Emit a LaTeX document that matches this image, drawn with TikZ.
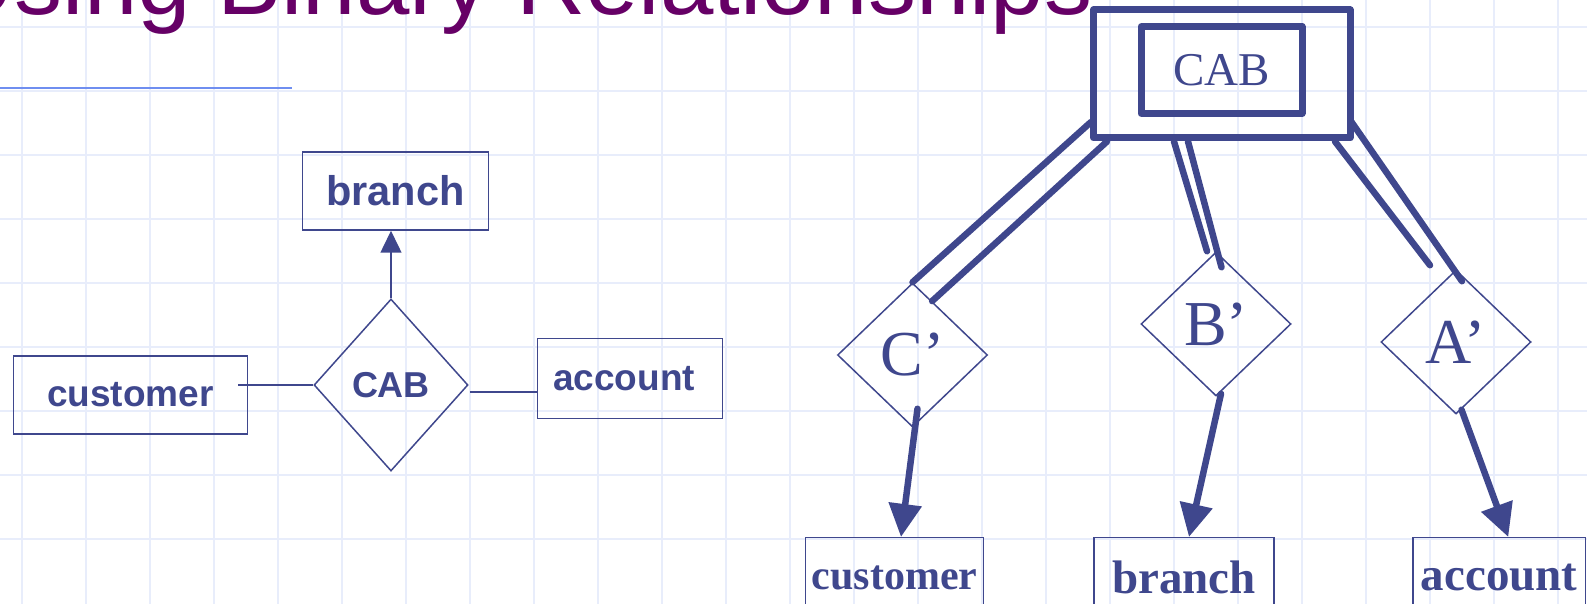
\documentclass[tikz,border=0pt]{standalone}
\usepackage{fontspec}
\setmainfont{Liberation Serif}
\newfontfamily\helv{Liberation Sans}
\usetikzlibrary{shapes.geometric,arrows.meta,calc}
\definecolor{ink}{HTML}{3F478D}
\definecolor{titlepurple}{HTML}{660066}
\definecolor{gridblue}{HTML}{E8EDFB}
\definecolor{ruleblue}{HTML}{6F8EF0}

\begin{document}
\begin{tikzpicture}[x=0.5pt,y=-0.5pt,
  gridline/.style={gridblue,line width=1pt},
  thinbox/.style={draw=ink,line width=0.75pt,rectangle,inner sep=0pt,text=ink},
  thinrel/.style={draw=ink,line width=0.75pt,diamond,inner sep=0pt,text=ink},
  thickbox/.style={draw=ink,line width=3.5pt,line join=round,rectangle,inner sep=0pt,text=ink},
  thinline/.style={ink,line width=0.75pt},
  boldline/.style={ink,line width=3.25pt,line cap=round},
  boldarrow/.style={ink,line width=3.25pt,line cap=round,-{Triangle[length=16.5pt,width=16pt]}},
  sanslabel/.style={font=\helv\bfseries\fontsize{#1}{#1}\selectfont},
  seriflabel/.style={font=\bfseries\fontsize{#1}{#1}\selectfont},
  primelabel/.style={font=\fontsize{32pt}{32pt}\selectfont,minimum width=75pt,minimum height=72pt}]
\useasboundingbox (0,0) rectangle (1587,604);
\clip (0,0) rectangle (1587,604);
\fill[white] (0,0) rectangle (1587,604);
\foreach \gx in {0,...,24}
  \draw[gridline] (22+64*\gx,0) -- (22+64*\gx,604);
\foreach \gy in {0,...,8}
  \draw[gridline] (0,27.5+64*\gy) -- (1587,27.5+64*\gy);
\node[anchor=base west,inner sep=0pt,text=titlepurple,font=\helv\fontsize{48pt}{56pt}\selectfont] (title) at (-55,14.5) {Using Binary Relationships};
\draw[ruleblue,line width=1pt] (0,88) -- (292,88);

\node[thinbox,sanslabel=20.75pt,minimum width=93pt,minimum height=39pt] (lbranch) at (395.5,191) {branch};
\node[thinbox,sanslabel=18.5pt,minimum width=117pt,minimum height=39pt] (lcust) at (130.5,395) {customer};
\node[thinrel,sanslabel=18pt,minimum width=77pt,minimum height=86pt] (lcab) at (391,385) {CAB};
\node[thinbox,sanslabel=18.5pt,minimum width=92.5pt,minimum height=40pt] (lacct) at (630,378.3) {account\hspace*{6pt}};
\draw[thinline,-{Triangle[length=11pt,width=10.5pt]}] (lcab.north) -- (lcab.north |- lbranch.south);
\draw[thinline] (lcab.west) -- ($(lcust.east |- lcab.west)+(-10,0)$);
\draw[thinline] ($(lcab.east)+(1,7)$) -- ($(lacct.west |- lcab.east)+(0,7)$);

\node[thickbox,minimum width=128.25pt,minimum height=64pt] (cabrel) at (1221.75,74) {};
\node[thickbox,font=\fontsize{23.5pt}{23.5pt}\selectfont,minimum width=80.5pt,minimum height=43.25pt] (cabent) at (1221.5,70) {CAB};
\node[thinrel,primelabel] (cp) at (912.5,355) {C’};
\node[thinrel,primelabel] (bp) at (1216,324) {B’};
\node[thinrel,primelabel] (ap) at (1456,342) {A’};
\node[thinbox,seriflabel=21pt,minimum width=88.8pt,minimum height=40pt] (rcust) at (894.5,577.7) {customer};
\node[thinbox,seriflabel=23.5pt,minimum width=90pt,minimum height=40pt] (rbranch) at (1184,577.7) {branch};
\node[thinbox,seriflabel=23.5pt,minimum width=86.25pt,minimum height=40pt] (racct) at (1499.25,577.7) {account};

\draw[boldline] ($(cabrel.south west)+(1,-19.5)$) -- (cp.north);
\draw[boldline] ($(cabrel.south west)+(17,0)$) -- (cp.70);
\draw[boldline] ($(cabrel.south west)+(84,0)$) -- ($(bp.north)+(-9,0)$);
\draw[boldline] ($(cabrel.south west)+(98,0)$) -- ($(bp.north)+(5.5,16)$);
\draw[boldline] ($(cabrel.south east)+(-18.5,0)$) -- ($(ap.north)+(-26,-4)$);
\draw[boldline] ($(cabrel.south east)+(-2,-19.5)$) -- ($(ap.north)+(6,12)$);
\draw[boldarrow] ($(cp.south)+(5,-19)$) -- ($(rcust.north)+(6.5,0)$);
\draw[boldarrow] ($(bp.south)+(5,-3)$) -- ($(rbranch.north)+(5,0)$);
\draw[boldarrow] ($(ap.south)+(5.5,-5)$) -- ($(racct.north)+(9,0)$);
\end{tikzpicture}
\end{document}
